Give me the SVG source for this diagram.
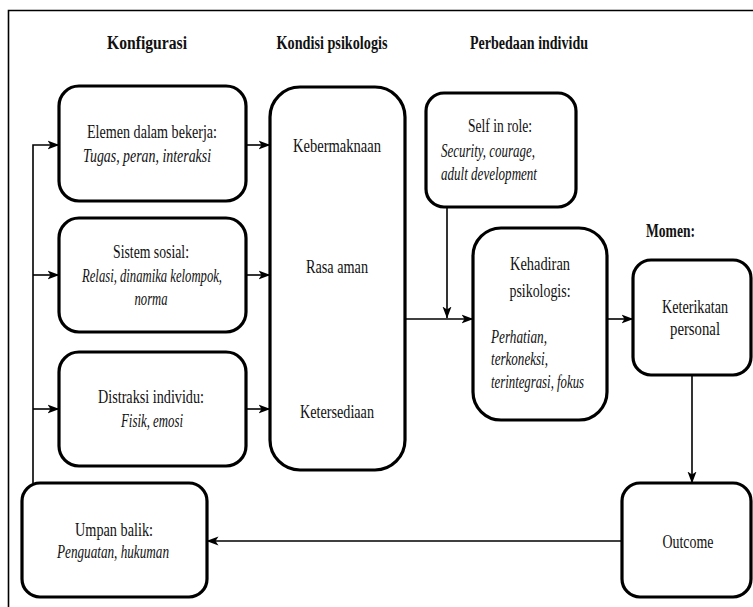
<svg xmlns="http://www.w3.org/2000/svg" width="753" height="607" viewBox="0 0 753 607">
<style>
text{font-family:"Liberation Serif","DejaVu Serif",serif;font-size:18px;fill:#111}
.b{font-weight:bold}
.i{font-style:italic}
.m{text-anchor:middle}
.box{fill:#fff;stroke:#000;stroke-width:3.2}
.c{fill:none;stroke:#000;stroke-width:1.6}
</style>
<defs>
<marker id="ah" viewBox="0 0 12 10" refX="11.5" refY="5" markerWidth="12" markerHeight="10" markerUnits="userSpaceOnUse" orient="auto">
<path d="M0,0.5 L12,5 L0,9.5 L3,5 z" fill="#000"/>
</marker>
</defs>
<rect width="753" height="607" fill="#fff"/>
<path d="M8.5,607 V10.5 H753" fill="none" stroke="#000" stroke-width="1.6"/>
<g id="headings">
<text class="b m" x="147" y="49" textLength="80" lengthAdjust="spacingAndGlyphs">Konfigurasi</text>
<text class="b m" x="332" y="49" textLength="111" lengthAdjust="spacingAndGlyphs">Kondisi psikologis</text>
<text class="b m" x="529" y="49" textLength="118" lengthAdjust="spacingAndGlyphs">Perbedaan individu</text>
<text class="b" x="646" y="237" textLength="49" lengthAdjust="spacingAndGlyphs">Momen:</text>
</g>
<g id="connectors">
<path class="c" d="M33,483 V145 H59" marker-end="url(#ah)"/>
<path class="c" d="M33,275 H59" marker-end="url(#ah)"/>
<path class="c" d="M33,409 H59" marker-end="url(#ah)"/>
<path class="c" d="M246,145 H270" marker-end="url(#ah)"/>
<path class="c" d="M246,275 H270" marker-end="url(#ah)"/>
<path class="c" d="M246,409 H270" marker-end="url(#ah)"/>
<path class="c" d="M405,319 H473" marker-end="url(#ah)"/>
<path class="c" d="M447,207 V318" marker-end="url(#ah)"/>
<path class="c" d="M607,319 H633" marker-end="url(#ah)"/>
<path class="c" d="M692,375 V483" marker-end="url(#ah)"/>
<path class="c" d="M622,541 H207" marker-end="url(#ah)"/>
</g>
<g id="elemen">
<rect class="box" x="59" y="86" width="187" height="115" rx="20"/>
<text class="m" x="152" y="138" textLength="130" lengthAdjust="spacingAndGlyphs">Elemen dalam bekerja:</text>
<text class="m i" x="147" y="162" textLength="128" lengthAdjust="spacingAndGlyphs">Tugas, peran, interaksi</text>
</g>
<g id="sistem">
<rect class="box" x="59" y="218" width="187" height="114" rx="20"/>
<text class="m" x="151" y="258" textLength="76" lengthAdjust="spacingAndGlyphs">Sistem sosial:</text>
<text class="m i" x="152" y="282" textLength="140" lengthAdjust="spacingAndGlyphs">Relasi, dinamika kelompok,</text>
<text class="m i" x="151" y="305" textLength="33" lengthAdjust="spacingAndGlyphs">norma</text>
</g>
<g id="distraksi">
<rect class="box" x="59" y="352" width="187" height="114" rx="20"/>
<text class="m" x="151" y="403" textLength="106" lengthAdjust="spacingAndGlyphs">Distraksi individu:</text>
<text class="m i" x="152" y="427" textLength="62" lengthAdjust="spacingAndGlyphs">Fisik, emosi</text>
</g>
<g id="kondisi">
<rect class="box" x="270" y="87" width="135" height="383" rx="30"/>
<text class="m" x="337" y="152" textLength="88" lengthAdjust="spacingAndGlyphs">Kebermaknaan</text>
<text class="m" x="337" y="273" textLength="62" lengthAdjust="spacingAndGlyphs">Rasa aman</text>
<text class="m" x="337" y="418" textLength="74" lengthAdjust="spacingAndGlyphs">Ketersediaan</text>
</g>
<g id="self">
<rect class="box" x="426" y="93" width="150" height="114" rx="18"/>
<text class="m" x="500" y="132" textLength="64" lengthAdjust="spacingAndGlyphs">Self in role:</text>
<text class="i" x="441" y="157" textLength="94" lengthAdjust="spacingAndGlyphs">Security, courage,</text>
<text class="i" x="441" y="180" textLength="96" lengthAdjust="spacingAndGlyphs">adult development</text>
</g>
<g id="kehadiran">
<rect class="box" x="473" y="228" width="134" height="192" rx="28"/>
<text class="m" x="540" y="270" textLength="60" lengthAdjust="spacingAndGlyphs">Kehadiran</text>
<text class="m" x="540" y="297" textLength="61" lengthAdjust="spacingAndGlyphs">psikologis:</text>
<text class="i" x="491" y="343" textLength="56" lengthAdjust="spacingAndGlyphs">Perhatian,</text>
<text class="i" x="491" y="365" textLength="57" lengthAdjust="spacingAndGlyphs">terkoneksi,</text>
<text class="i" x="491" y="388" textLength="93" lengthAdjust="spacingAndGlyphs">terintegrasi, fokus</text>
</g>
<g id="keterikatan">
<rect class="box" x="633" y="260" width="118" height="115" rx="18"/>
<text class="m" x="695" y="313" textLength="66" lengthAdjust="spacingAndGlyphs">Keterikatan</text>
<text class="m" x="695" y="335" textLength="50" lengthAdjust="spacingAndGlyphs">personal</text>
</g>
<g id="outcome">
<rect class="box" x="622" y="483" width="129" height="114" rx="18"/>
<text class="m" x="688" y="548" textLength="51" lengthAdjust="spacingAndGlyphs">Outcome</text>
</g>
<g id="umpan">
<rect class="box" x="22" y="483" width="185" height="114" rx="18"/>
<text class="m" x="114" y="536" textLength="78" lengthAdjust="spacingAndGlyphs">Umpan balik:</text>
<text class="m i" x="113" y="558" textLength="112" lengthAdjust="spacingAndGlyphs">Penguatan, hukuman</text>
</g>
</svg>
